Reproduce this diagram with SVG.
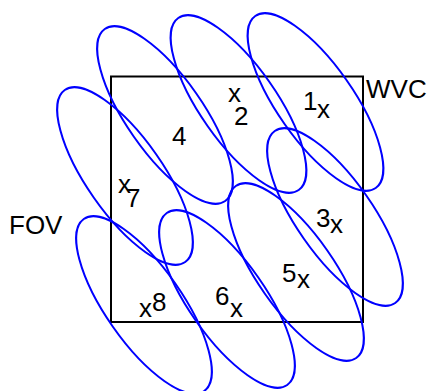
<svg xmlns="http://www.w3.org/2000/svg" width="430" height="391" viewBox="0 0 430 391">
<style>
.fov{fill:none;stroke:#0000FF;stroke-width:2}
.wvc{fill:none;stroke:#000;stroke-width:2}
text{font-family:"Liberation Sans",Arial,sans-serif;font-size:26px;fill:#000}
</style>
<rect width="430" height="391" fill="#fff"/>
<g id="wvc">
<rect class="wvc" x="111" y="76.5" width="252" height="245.5"/>
<text x="366" y="98">WVC</text>
</g>
<g id="fov-label"><text x="9" y="234">FOV</text></g>
<g id="connectors"/>
<g id="fov1">
<ellipse class="fov" cx="0" cy="0" rx="105" ry="38" transform="translate(315.5,102) rotate(55)"/>
<text x="303" y="110">1</text><text x="317" y="118">x</text>
</g>
<g id="fov2">
<ellipse class="fov" cx="0" cy="0" rx="105" ry="38" transform="translate(238.5,104) rotate(55)"/>
<text x="228" y="102">x</text><text x="234" y="125">2</text>
</g>
<g id="fov3">
<ellipse class="fov" cx="0" cy="0" rx="105" ry="38" transform="translate(335,217) rotate(55)"/>
<text x="316" y="227">3</text><text x="330" y="233">x</text>
</g>
<g id="fov4">
<ellipse class="fov" cx="0" cy="0" rx="105" ry="38" transform="translate(165,115) rotate(55)"/>
<text x="172" y="145">4</text>
</g>
<g id="fov5">
<ellipse class="fov" cx="0" cy="0" rx="105" ry="38" transform="translate(296,272) rotate(55)"/>
<text x="282" y="282">5</text><text x="297" y="288">x</text>
</g>
<g id="fov6">
<ellipse class="fov" cx="0" cy="0" rx="105" ry="38" transform="translate(227,299) rotate(55)"/>
<text x="215" y="305">6</text><text x="230" y="317">x</text>
</g>
<g id="fov7">
<ellipse class="fov" cx="0" cy="0" rx="105" ry="38" transform="translate(125,176) rotate(55)"/>
<text x="118" y="193">x</text><text x="126" y="207">7</text>
</g>
<g id="fov8">
<ellipse class="fov" cx="0" cy="0" rx="105" ry="38" transform="translate(144,305) rotate(55)"/>
<text x="139" y="317">x</text><text x="152" y="311">8</text>
</g>
</svg>
